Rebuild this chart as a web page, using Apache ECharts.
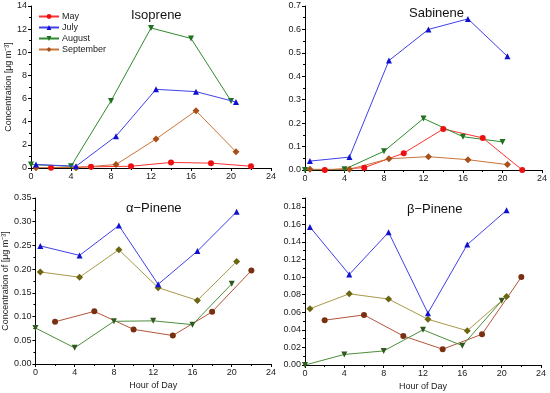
<!DOCTYPE html>
<html><head><meta charset="utf-8">
<script src="https://cdn.jsdelivr.net/npm/echarts@6/dist/echarts.min.js"></script>
<style>html,body{margin:0;padding:0;background:#fff}#c{width:550px;height:393px}</style>
</head><body><div id="c"></div>
<script>
// Hours
const hoursMay = [2, 6, 10, 14, 18, 22];
const hoursJuly = [0.5, 4.5, 8.5, 12.5, 16.5, 20.5];
const hoursAug = [0, 4, 8, 12, 16, 20];
const hoursSep = [0.5, 4.5, 8.5, 12.5, 16.5, 20.5];
const seriesNames = ["May", "July", "August", "September"];
const panelTitles = ["Isoprene", "Sabinene", "\u03b1\u2212Pinene", "\u03b2\u2212Pinene"];
const xTicks = [0, 4, 8, 12, 16, 20, 24];

// Isoprene
const isoMay = [0.03, 0.1, 0.15, 0.48, 0.42, 0.15];
const isoJuly = [0.3, 0.15, 2.75, 6.8, 6.6, 5.7];
const isoAug = [0.3, 0.15, 5.8, 12.1, 11.2, 5.8];
const isoSep = [0.03, 0.03, 0.3, 2.5, 4.95, 1.4];
// Sabinene
const sabMay = [0.0, 0.01, 0.072, 0.175, 0.137, 0.0];
const sabJuly = [0.038, 0.055, 0.467, 0.6, 0.645, 0.485];
const sabAug = [0.0, 0.003, 0.08, 0.22, 0.142, 0.12];
const sabSep = [0.003, 0.003, 0.048, 0.057, 0.044, 0.023];
// alpha-Pinene
const apMay = [0.089, 0.111, 0.073, 0.060, 0.110, 0.197];
const apJuly = [0.249, 0.229, 0.292, 0.168, 0.238, 0.321];
const apAug = [0.076, 0.034, 0.090, 0.091, 0.083, 0.169];
const apSep = [0.194, 0.183, 0.241, 0.161, 0.134, 0.216];
// beta-Pinene
const bpMay = [0.051, 0.057, 0.033, 0.018, 0.035, 0.100];
const bpJuly = [0.157, 0.103, 0.151, 0.059, 0.137, 0.176];
const bpAug = [0.000, 0.012, 0.016, 0.040, 0.022, 0.073];
const bpSep = [0.064, 0.081, 0.075, 0.052, 0.039, 0.078];

const zip = (xs, ys) => xs.map((x, i) => [x, ys[i]]);

const topColors = {
  May: {line: '#ff3030', mark: '#ee1010'},
  July: {line: '#4040e8', mark: '#1010d0'},
  August: {line: '#2e8b2e', mark: '#207020'},
  September: {line: '#c8743a', mark: '#a8501a'}
};
const botColors = {
  May: {line: '#b4553a', mark: '#7a3010'},
  July: {line: '#4040e8', mark: '#1010d0'},
  August: {line: '#4e8e3e', mark: '#2e5a1e'},
  September: {line: '#a89848', mark: '#6b6510'}
};
const symbols = {
  May: {symbol: 'circle', size: 6, rot: 0},
  July: {symbol: 'triangle', size: 6, rot: 0},
  August: {symbol: 'triangle', size: 6, rot: 180},
  September: {symbol: 'diamond', size: 7, rot: 0}
};

const grids = [
  {left: 31, top: 6, width: 240, height: 162},
  {left: 305, top: 6, width: 239, height: 164},
  {left: 31, top: 198, width: 240, height: 166},
  {left: 305, top: 198, width: 236, height: 167}
];
const yAxesCfg = [
  {max: 14, interval: 2, dec: 0, name: 'Concentration [\u03bcg m\u207b\u00b3]'},
  {max: 0.7, interval: 0.1, dec: 1, name: ''},
  {max: 0.35, interval: 0.05, dec: 2, name: 'Concentration of [\u03bcg m\u207b\u00b3]'},
  {max: 0.19, interval: 0.02, dec: 2, name: ''}
];
const panelData = [
  [isoMay, isoJuly, isoAug, isoSep],
  [sabMay, sabJuly, sabAug, sabSep],
  [apMay, apJuly, apAug, apSep],
  [bpMay, bpJuly, bpAug, bpSep]
];
const hoursBy = [hoursMay, hoursJuly, hoursAug, hoursSep];

const axisLine = {show: true, lineStyle: {color: '#000', width: 1}};
const xAxis = grids.map((g, i) => ({
  type: 'value', gridIndex: i, min: xTicks[0], max: xTicks[xTicks.length - 1], interval: 4,
  axisLine, axisTick: {show: true, length: 3, lineStyle: {color: '#000'}},
  minorTick: {show: true, splitNumber: 2, length: 2, lineStyle: {color: '#000'}},
  splitLine: {show: false},
  axisLabel: {fontSize: 9, color: '#222', margin: 4, fontFamily: 'Liberation Sans'},
  name: i >= 2 ? 'Hour of Day' : '', nameLocation: 'middle', nameGap: 17,
  nameTextStyle: {fontSize: 9, color: '#222', fontFamily: 'Liberation Sans'}
}));
const yAxis = yAxesCfg.map((c, i) => ({
  type: 'value', gridIndex: i, min: 0, max: c.max, interval: c.interval,
  axisLine, axisTick: {show: true, length: 3, lineStyle: {color: '#000'}},
  minorTick: {show: true, splitNumber: 2, length: 2, lineStyle: {color: '#000'}},
  splitLine: {show: false},
  axisLabel: {fontSize: 9, color: '#222', margin: 4, fontFamily: 'Liberation Sans',
    showMaxLabel: i !== 3, formatter: v => v.toFixed(c.dec)},
  name: c.name, nameLocation: 'middle', nameRotate: 90,
  nameGap: i === 0 ? 17 : 22,
  nameTextStyle: {fontSize: 9, color: '#222', fontFamily: 'Liberation Sans'}
}));

const series = [];
panelData.forEach((arrs, p) => {
  const cols = p < 2 ? topColors : botColors;
  arrs.forEach((ys, k) => {
    const nm = seriesNames[k];
    const s = symbols[nm];
    series.push({
      name: nm, type: 'line', xAxisIndex: p, yAxisIndex: p,
      data: zip(hoursBy[k], ys),
      symbol: s.symbol, symbolSize: s.size, symbolRotate: s.rot,
      lineStyle: {color: cols[nm].line, width: 1},
      itemStyle: {color: cols[nm].mark, borderWidth: 0},
      emphasis: {disabled: true}, animation: false, z: 3 + (k === 1 ? 1 : 0)
    });
  });
});

const titleFont = {fontSize: 13, fontWeight: 'normal', color: '#111', fontFamily: 'Liberation Sans'};
const chart = echarts.init(document.getElementById('c'), null, {renderer: 'canvas'});
chart.setOption({
  backgroundColor: '#fff',
  animation: false,
  title: [
    {text: panelTitles[0], left: 126, top: 4, textStyle: titleFont},
    {text: panelTitles[1], left: 404, top: 2, textStyle: titleFont},
    {text: panelTitles[2], left: 121, top: 197, textStyle: titleFont},
    {text: panelTitles[3], left: 402, top: 198, textStyle: titleFont}
  ],
  legend: {
    data: seriesNames.map(n => ({name: n, itemStyle: {color: topColors[n].mark}, lineStyle: {color: topColors[n].line}})),
    orient: 'vertical', left: 38, top: 12, itemWidth: 20, itemHeight: 6, itemGap: 2,
    textStyle: {fontSize: 9, color: '#222', fontFamily: 'Liberation Sans', padding: [0, 0, 0, -2]},
    padding: 0, selectedMode: false
  },
  grid: grids,
  xAxis, yAxis, series
});
</script></body></html>
